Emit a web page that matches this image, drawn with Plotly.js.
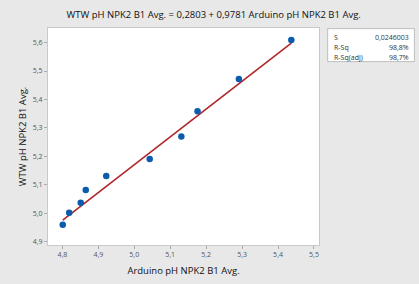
<!DOCTYPE html>
<html><head><meta charset="utf-8">
<script src="https://cdn.plot.ly/plotly-3.0.1.min.js"></script>
<style>html,body{margin:0;padding:0;background:#e8e8e8;}#c{width:419px;height:284px;}</style>
</head><body><div id="c"></div>
<script>
const arduino = [4.801, 4.819, 4.851, 4.865, 4.922, 5.043, 5.131, 5.176, 5.291, 5.437];
const wtw     = [4.960, 5.002, 5.037, 5.082, 5.131, 5.191, 5.270, 5.359, 5.472, 5.609];
const intercept = 0.2803;
const slope = 0.9781;
const statLabels = ["S", "R-Sq", "R-Sq(adj)"];
const statValues = ["0,0246003", "98,8%", "98,7%"];
const xTicks = [4.8, 4.9, 5.0, 5.1, 5.2, 5.3, 5.4, 5.5];
const yTicks = [4.9, 5.0, 5.1, 5.2, 5.3, 5.4, 5.5, 5.6];

const xMin = Math.min(...arduino), xMax = Math.max(...arduino);
const fitX = [xMin, xMax];
const fitY = fitX.map(v => intercept + slope * v);

const font = "'Open Sans', 'Noto Sans', sans-serif";
const traces = [
  {x: fitX, y: fitY, mode: 'lines', line: {color: '#b0272a', width: 1.6}, hoverinfo: 'skip'},
  {x: arduino, y: wtw, mode: 'markers', marker: {color: '#0b5cad', size: 6.5}}
];

const annotations = [];
const rowY = [0.957, 0.911, 0.865];
statLabels.forEach((s, i) => {
  annotations.push({xref: 'paper', yref: 'paper', x: 1.047, y: rowY[i], text: s, showarrow: false,
    xanchor: 'left', yanchor: 'middle', font: {family: font, size: 7, color: '#333'}});
  annotations.push({xref: 'paper', yref: 'paper', x: 1.34, y: rowY[i], text: statValues[i], showarrow: false,
    xanchor: 'right', yanchor: 'middle', font: {family: font, size: 7, color: '#333'}});
});

const titleFont = {family: font, size: 9.5, color: '#111', weight: 500};
const layout = {
  width: 419, height: 284,
  paper_bgcolor: '#e8e8e8', plot_bgcolor: '#ffffff',
  margin: {l: 48, r: 100, t: 28, b: 39, pad: 0},
  showlegend: false,
  separators: ', ',
  title: {text: 'WTW pH NPK2 B1 Avg. = 0,2803 + 0,9781 Arduino pH NPK2 B1 Avg.',
    font: titleFont, x: 0.51, xanchor: 'center', y: 0.947, yanchor: 'middle'},
  xaxis: {range: [4.760, 5.514], tickvals: xTicks, tickformat: '.1f', showgrid: false, zeroline: false,
    showline: true, mirror: true, linecolor: '#c9c9c9', linewidth: 1,
    ticks: 'outside', ticklen: 3, tickcolor: '#aaa', tickfont: {family: font, size: 7, color: '#555'},
    title: {text: 'Arduino pH NPK2 B1 Avg.', font: titleFont, standoff: 8}},
  yaxis: {range: [4.889, 5.651], tickvals: yTicks, tickformat: '.1f', showgrid: false, zeroline: false,
    showline: true, mirror: true, linecolor: '#c9c9c9', linewidth: 1,
    ticks: 'outside', ticklen: 3, tickcolor: '#aaa', tickfont: {family: font, size: 7, color: '#555'},
    title: {text: 'WTW pH NPK2 B1 Avg.', font: titleFont, standoff: 4}},
  shapes: [{type: 'rect', xref: 'paper', yref: 'paper', x0: 1.032, x1: 1.352, y0: 0.845, y1: 0.997,
    fillcolor: '#ffffff', line: {color: '#bdbdbd', width: 1}}],
  annotations: annotations
};
Plotly.newPlot('c', traces, layout, {staticPlot: true, displayModeBar: false});
</script></body></html>
